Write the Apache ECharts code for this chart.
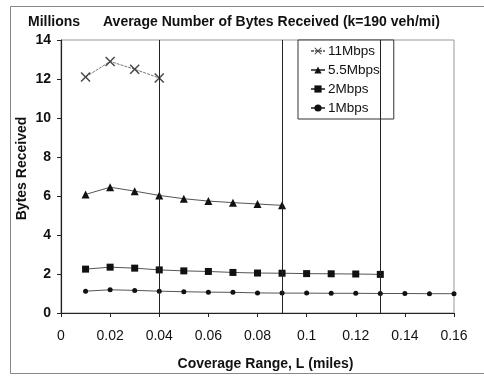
<!DOCTYPE html>
<html>
<head>
<meta charset="utf-8">
<script src="https://cdn.jsdelivr.net/npm/echarts@6/dist/echarts.min.js"></script>
<style>html,body{margin:0;padding:0;background:#fff;}#c{width:484px;height:376px;}</style>
</head>
<body>
<div id="c"></div>
<script>
var coverage = [0.01,0.02,0.03,0.04,0.05,0.06,0.07,0.08,0.09,0.10,0.11,0.12,0.13,0.14,0.15,0.16];
var s11 = [12.1, 12.9, 12.5, 12.05];
var s55 = [6.08, 6.45, 6.25, 6.03, 5.86, 5.74, 5.66, 5.59, 5.52];
var s2 = [2.25, 2.35, 2.3, 2.21, 2.16, 2.13, 2.08, 2.05, 2.04, 2.02, 2.01, 2.0, 1.98];
var s1 = [1.12, 1.19, 1.16, 1.12, 1.09, 1.07, 1.06, 1.03, 1.02, 1.02, 1.01, 1.01, 1.0, 1.0, 0.99, 0.99];
var seriesNames = ['11Mbps', '5.5Mbps', '2Mbps', '1Mbps'];
var endLines = [0.04, 0.09, 0.13];
var xTitle = 'Coverage Range, L (miles)';
var yTitle = 'Bytes Received';
var chartTitle = 'Average Number of Bytes Received (k=190 veh/mi)';
var unitLabel = 'Millions';

function pairs(vals){ return vals.map(function(v,i){ return [coverage[i], v]; }); }
var crossPath = 'path://M1,0L5,4L9,0L10,1L6,5L10,9L9,10L5,6L1,10L0,9L4,5L0,1Z';
var lineCol = '#555';
var markCol = '#222';
var ff = 'Liberation Sans, Arial, sans-serif';

var chart = echarts.init(document.getElementById('c'));
chart.setOption({
  animation: false,
  backgroundColor: '#fff',
  textStyle: {fontFamily: ff},
  graphic: [
    {type:'rect', shape:{x:10.5, y:6.5, width:480, height:367}, style:{fill:'none', stroke:'#888', lineWidth:1}, z:-10},
    {type:'text', left:28, top:15, style:{text:unitLabel, font:'bold 14px ' + ff, fill:'#111'}},
    {type:'text', left:103, top:15, style:{text:chartTitle, font:'bold 14px ' + ff, fill:'#111'}}
  ],
  grid: {left:61, right:30, top:40, bottom:63, show:true, borderColor:'#999', borderWidth:1},
  legend: {
    orient:'vertical', left:298, top:40,
    data: seriesNames,
    backgroundColor:'#fff', borderColor:'#333', borderWidth:1,
    padding:[4,14,4,12], itemGap:5, itemWidth:14, itemHeight:9,
    textStyle:{fontSize:13.5, color:'#111', fontFamily:ff, padding:[0,0,0,-2]}
  },
  xAxis: {
    type:'value', min:0, max:0.16, interval:0.02,
    name:xTitle, nameLocation:'middle', nameGap:44,
    nameTextStyle:{fontWeight:'bold', fontSize:14, color:'#111', padding:[0,0,0,16]},
    axisLine:{lineStyle:{color:'#222', width:1.2}},
    axisTick:{show:true, length:4, lineStyle:{color:'#222'}},
    axisLabel:{fontSize:14, color:'#111', margin:16},
    splitLine:{show:false}
  },
  yAxis: {
    type:'value', min:0, max:14, interval:2,
    name:yTitle, nameLocation:'middle', nameGap:32, nameMoveOverlap:false,
    nameTextStyle:{fontWeight:'bold', fontSize:14, color:'#111', padding:[0,0,0,16]},
    axisLine:{show:true, lineStyle:{color:'#222', width:1.2}},
    axisTick:{show:true, length:4, lineStyle:{color:'#222'}},
    axisLabel:{fontSize:14, color:'#111', margin:10, fontWeight:'bold'},
    splitLine:{show:false}
  },
  series: [
    {name:seriesNames[0], type:'line', data:pairs(s11), symbol:crossPath, symbolSize:10,
     itemStyle:{color:'#444'}, lineStyle:{color:'#777', width:1, type:[3,1]},
     markLine:{silent:true, symbol:'none', label:{show:false}, lineStyle:{color:markCol, width:1, type:'solid'}, data:[{xAxis:endLines[0]}]}},
    {name:seriesNames[1], type:'line', data:pairs(s55), symbol:'triangle', symbolSize:8,
     itemStyle:{color:'#111'}, lineStyle:{color:lineCol, width:1},
     markLine:{silent:true, symbol:'none', label:{show:false}, lineStyle:{color:markCol, width:1, type:'solid'}, data:[{xAxis:endLines[1]}]}},
    {name:seriesNames[2], type:'line', data:pairs(s2), symbol:'rect', symbolSize:7,
     itemStyle:{color:'#111'}, lineStyle:{color:lineCol, width:1},
     markLine:{silent:true, symbol:'none', label:{show:false}, lineStyle:{color:markCol, width:1, type:'solid'}, data:[{xAxis:endLines[2]}]}},
    {name:seriesNames[3], type:'line', data:pairs(s1), symbol:'circle', symbolSize:5,
     itemStyle:{color:'#111'}, lineStyle:{color:lineCol, width:1}}
  ]
});
</script>
</body>
</html>
